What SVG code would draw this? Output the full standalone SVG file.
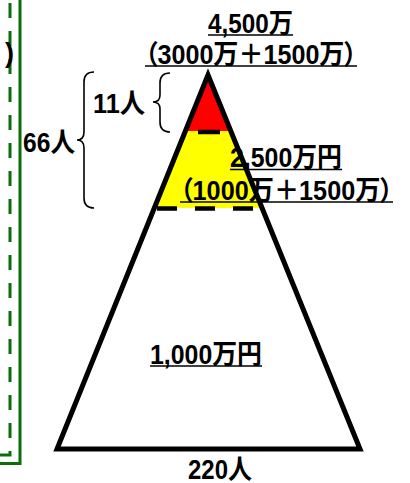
<svg xmlns="http://www.w3.org/2000/svg" width="410" height="483" viewBox="0 0 410 483">
  <style>
    .t { font-family: "Liberation Sans", "Noto Sans CJK JP", sans-serif; font-size: 27px; font-weight: bold; fill: #000; font-feature-settings: "palt"; }
    .ul { stroke: #000; stroke-width: 1.7; }
    .brace { fill: none; stroke: #000; stroke-width: 1.6; }
    .green { fill: none; stroke: #0a6e0a; stroke-width: 3; }
    .dash { stroke: #000; stroke-width: 4.5; }
  </style>
  <rect width="410" height="483" fill="#fff"/>

  <g id="frame">
    <path class="green" d="M20,0 L20,463.5 L0,463.5"/>
    <path class="green" d="M10,0 L10,455 L0,455" stroke-dasharray="15 13" stroke-dashoffset="25"/>
    <text class="t" x="14" y="62" text-anchor="end" font-size="25" font-weight="normal">)</text>
  </g>

  <g id="pyramid">
    <polygon points="208,75 185,131 231,131" fill="#ff0000"/>
    <polygon points="185,131 231,131 262,208 154,208" fill="#ffff00"/>
    <g id="labels-inside">
      <text class="t" x="230" y="167" textLength="112" lengthAdjust="spacingAndGlyphs">2,500万円</text>
      <line class="ul" x1="230" y1="169.5" x2="342" y2="169.5"/>
      <text class="t" x="180" y="200" textLength="213" lengthAdjust="spacingAndGlyphs">（1000万＋1500万）</text>
      <line class="ul" x1="180" y1="202" x2="393" y2="202"/>
      <text class="t" x="150" y="363.5" textLength="112" lengthAdjust="spacingAndGlyphs">1,000万円</text>
      <line class="ul" x1="150" y1="366" x2="262" y2="366"/>
    </g>
    <polygon points="208,75 57,449 360,449" fill="none" stroke="#000" stroke-width="5" stroke-linejoin="miter"/>
    <line class="dash" x1="198" y1="132" x2="220" y2="132"/>
    <line class="dash" x1="157" y1="208.5" x2="253" y2="208.5" stroke-dasharray="20 18"/>
  </g>

  <g id="top-label">
    <text class="t" x="208" y="33.3" textLength="85" lengthAdjust="spacingAndGlyphs">4,500万</text>
    <line class="ul" x1="208" y1="35" x2="293" y2="35"/>
    <text class="t" x="145" y="63.5" textLength="212" lengthAdjust="spacingAndGlyphs">（3000万＋1500万）</text>
    <line class="ul" x1="145" y1="66" x2="357" y2="66"/>
  </g>

  <g id="brace-11">
    <path class="brace" d="M170,73 Q160,73 160,83 L160,95 Q160,102 153,102 Q160,102 160,109 L160,122 Q160,132 170,132"/>
    <text class="t" x="93" y="113" textLength="52" lengthAdjust="spacingAndGlyphs">11人</text>
  </g>

  <g id="brace-66">
    <path class="brace" d="M94,72 Q84,72 84,82 L84,132 Q84,140 77,140 Q84,140 84,148 L84,198 Q84,208 94,208"/>
    <text class="t" x="23" y="152" textLength="52" lengthAdjust="spacingAndGlyphs">66人</text>
  </g>

  <g id="bottom-label">
    <text class="t" x="188" y="478.5" textLength="64" lengthAdjust="spacingAndGlyphs">220人</text>
  </g>
</svg>
